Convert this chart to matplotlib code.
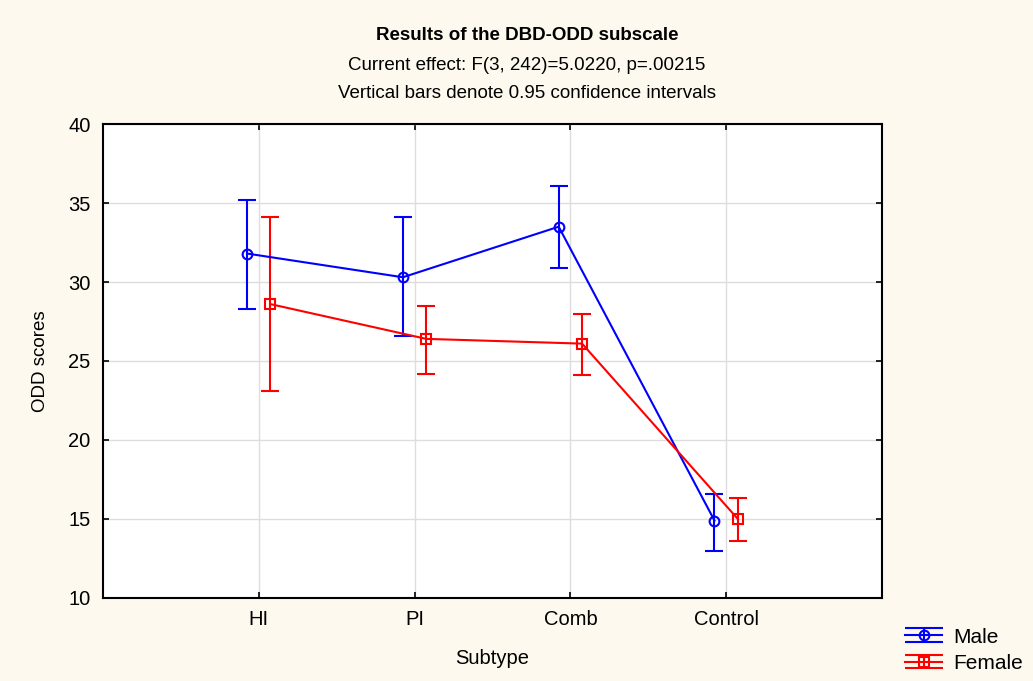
import matplotlib.pyplot as plt
import numpy as np
from matplotlib.container import ErrorbarContainer
from matplotlib.legend_handler import HandlerErrorbar

plt.rcParams['font.family'] = ['Liberation Sans', 'DejaVu Sans']

# data
subtypes = ['HI', 'PI', 'Comb', 'Control']
male_mean = [31.8, 30.3, 33.5, 14.9]
male_lo = [28.3, 26.6, 30.9, 13.0]
male_hi = [35.2, 34.1, 36.1, 16.6]
female_mean = [28.6, 26.4, 26.1, 15.0]
female_lo = [23.1, 24.2, 24.1, 13.6]
female_hi = [34.1, 28.5, 28.0, 16.3]

bg = '#fdf9ee'
fig = plt.figure(figsize=(10.33, 6.81), dpi=100, facecolor=bg)
ax = fig.add_axes([0.0997, 0.1219, 0.7541, 0.696])
ax.set_facecolor('white')

x = np.arange(len(subtypes))
off = 0.075

def draw(xs, mean, lo, hi, color, marker, label, cap=6.5):
    mean = np.array(mean, dtype=float)
    err = [mean - np.array(lo), np.array(hi) - mean]
    return ax.errorbar(xs, mean, yerr=err, color=color, marker=marker, markersize=7,
                       markerfacecolor='none', markeredgewidth=1.5, linewidth=1.5,
                       elinewidth=1.5, capsize=cap, capthick=1.5, label=label, zorder=3)

draw(x - off, male_mean, male_lo, male_hi, '#0000ff', 'o', 'Male')
draw(x + off, female_mean, female_lo, female_hi, '#ff0000', 's', 'Female')

# legend proxies (outside the view) with wide caps like the original
pm = draw([-5], [0], [-1], [1], '#0000ff', 'o', 'Male', cap=13.5)
pf = draw([-5], [0], [-1], [1], '#ff0000', 's', 'Female', cap=13.5)

ax.set_xlim(-1, 4)
ax.set_ylim(10, 40)
ax.set_xticks(x)
ax.set_xticklabels(subtypes)
ax.set_yticks(np.arange(10, 41, 5))
ax.grid(True, color='#dddddd', linewidth=1)
ax.set_axisbelow(True)
ax.tick_params(direction='in', length=4, width=1.2, labelsize=14.5, pad=9,
               top=True, right=True, colors='black')
for s in ax.spines.values():
    s.set_linewidth(1.5)

ax.set_xlabel('Subtype', fontsize=14.5, labelpad=14)
ax.set_ylabel('ODD scores', fontsize=13.5, labelpad=14)

fig.text(0.51, 0.948, 'Results of the DBD-ODD subscale', ha='center', va='center',
         fontsize=13.5, fontweight='bold')
fig.text(0.51, 0.904, 'Current effect: F(3, 242)=5.0220, p=.00215', ha='center',
         va='center', fontsize=13.5)
fig.text(0.51, 0.862, 'Vertical bars denote 0.95 confidence intervals', ha='center',
         va='center', fontsize=13.5)

leg = ax.legend(handles=[pm, pf], labels=['Male', 'Female'],
                handler_map={ErrorbarContainer: HandlerErrorbar(yerr_size=0.33)},
                loc='lower left', bbox_to_anchor=(0.876, 0.012),
                bbox_transform=fig.transFigure, frameon=False, fontsize=15,
                handlelength=1.8, handletextpad=0.5, labelspacing=0.35,
                borderaxespad=0, borderpad=0)

fig.savefig('out.png', dpi=100, facecolor=bg)
